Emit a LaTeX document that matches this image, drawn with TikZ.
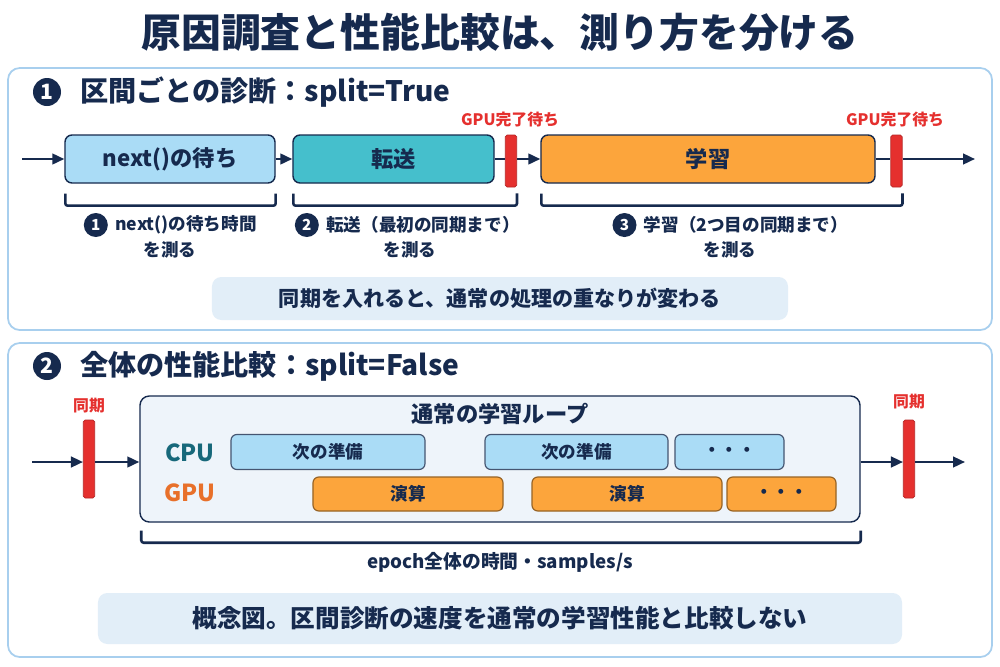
\documentclass[tikz,border=0pt]{standalone}
\usepackage{fontspec}
\setmainfont{Noto Sans CJK JP}
\usepackage{xcolor}
\usepackage{tikz}
\usetikzlibrary{arrows.meta,positioning}

\definecolor{navy}{RGB}{22,42,78}
\definecolor{boxblue}{RGB}{170,220,246}
\definecolor{boxteal}{RGB}{69,191,204}
\definecolor{boxorange}{RGB}{252,165,60}
\definecolor{syncred}{RGB}{229,48,46}
\definecolor{panelline}{RGB}{168,207,238}
\definecolor{notefill}{RGB}{226,238,248}
\definecolor{loopfill}{RGB}{238,244,250}
\definecolor{cputext}{RGB}{23,104,122}
\definecolor{gputext}{RGB}{232,112,42}

\begin{document}
\begin{tikzpicture}[
    x=0.03cm, y=-0.03cm,
    panel/.style={draw=panelline, line width=1.5pt, rounded corners=10pt, fill=white},
    phase/.style={draw=navy, line width=1.2pt, rounded corners=6pt, inner sep=0pt,
                  minimum height=1.44cm, font=\fontsize{19}{22}\selectfont\bfseries, text=navy},
    task/.style={draw=navy!80, line width=1pt, rounded corners=5pt, inner sep=0pt,
                 font=\fontsize{15}{18}\selectfont\bfseries, text=navy},
    syncbar/.style={draw=syncred!80!black, line width=0.6pt, fill=syncred, rounded corners=1.5pt,
                    inner sep=0pt, minimum width=0.34cm},
    arr/.style={-{Triangle[length=3.6mm,width=3.2mm]}, line width=2pt, navy},
    link/.style={line width=2pt, navy},
    brace/.style={line width=2.2pt, navy, rounded corners=2pt},
    num/.style={circle, fill=navy, text=white, inner sep=0pt, font=\fontsize{13}{13}\selectfont\bfseries},
    lbl/.style={font=\fontsize{15}{19}\selectfont\bfseries, text=navy, inner sep=1pt},
    red lbl/.style={font=\fontsize{13.5}{16}\selectfont\bfseries, text=syncred},
    head/.style={font=\fontsize{24}{30}\selectfont\bfseries, text=navy, anchor=west, inner sep=0pt},
    note/.style={fill=notefill, rounded corners=8pt, inner sep=0pt,
                 font=\fontsize{18}{22}\selectfont\bfseries, text=navy},
]
\useasboundingbox (0,0) rectangle (1000,667);

% title
\node[font=\fontsize{34}{40}\selectfont\bfseries, text=navy] (title) at (500,32)
    {原因調査と性能比較は、測り方を分ける};

% panel 1
\draw[panel] (8,68) rectangle (992,330);
\node[num, minimum size=0.84cm, font=\fontsize{18}{20}\selectfont\bfseries] (n1) at (47,92) {1};
\node[head] (h1) at (80,92) {区間ごとの診断：split=True};

\coordinate (in1) at (22,159);
\node[phase, fill=boxblue, minimum width=6.3cm] (wait) at (170,159) {next()の待ち};
\node[phase, fill=boxteal, minimum width=6.03cm] (xfer) at (393.5,159) {転送};
\node[syncbar, minimum height=1.56cm] (sync1) at (511,161) {};
\node[phase, fill=boxorange, minimum width=10.02cm] (train) at (708,159) {学習};
\node[syncbar, minimum height=1.56cm] (sync2) at (896.5,161) {};
\coordinate (out1) at (975,159);

\node[red lbl] at (510,120) {GPU完了待ち};
\node[red lbl] at (895,120) {GPU完了待ち};

\draw[arr] (in1) -- (wait.west);
\draw[arr] (wait.east) -- (xfer.west);
\draw[link] (xfer.east) -- (sync1.west |- xfer.east);
\draw[arr] (sync1.east |- train.west) -- (train.west);
\draw[link] (train.east) -- (sync2.west |- train.east);
\draw[arr] (sync2.east |- out1) -- (out1);

% brackets under the phases
\draw[brace] ([shift={(1,10)}]wait.south west) -- ++(0,12) -| ([shift={(0,10)}]wait.south east);
\draw[brace] ([shift={(1,10)}]xfer.south west) -- ++(0,12) -| ([shift={(0,6)}]sync1.south east);
\draw[brace] ([shift={(1,10)}]train.south west) -- ++(0,12) -| ([shift={(0,6)}]sync2.south east);

\node[lbl] (m1) at (186,225) {next()の待ち時間};
\node[num, minimum size=0.72cm, left=5pt of m1] (c1) {1};
\node[lbl] (m1b) at (170,250) {を測る};
\node[lbl] (m2) at (423,225) {転送（最初の同期まで）};
\node[num, minimum size=0.72cm, left=5pt of m2] (c2) {2};
\node[lbl] (m2b) at (410,250) {を測る};
\node[lbl] (m3) at (746,225) {学習（2つ目の同期まで）};
\node[num, minimum size=0.72cm, left=5pt of m3] (c3) {3};
\node[lbl] (m3b) at (730,250) {を測る};

\node[note, minimum width=17.28cm, minimum height=1.29cm] (note1) at (500,298.5)
    {同期を入れると、通常の処理の重なりが変わる};

% panel 2
\draw[panel] (8,343) rectangle (992,657);
\node[num, minimum size=0.84cm, font=\fontsize{18}{20}\selectfont\bfseries] (n2) at (47,366) {2};
\node[head] (h2) at (80,366) {全体の性能比較：split=False};

\coordinate (in2) at (32,462);
\node[syncbar, minimum height=2.34cm] (syncL) at (89,459) {};
\node[red lbl] at (89,406) {同期};
\node[draw=navy, line width=1.2pt, fill=loopfill, rounded corners=8pt,
      minimum width=21.6cm, minimum height=3.78cm, inner sep=0pt] (loop) at (500,459) {};
\node[font=\fontsize{19}{22}\selectfont\bfseries, text=navy] (looptitle) at (500,414) {通常の学習ループ};
\node[syncbar, minimum height=2.34cm] (syncR) at (909,459) {};
\node[red lbl] at (909,402) {同期};
\coordinate (out2) at (965,462);

\node[font=\fontsize{20}{22}\selectfont\bfseries, text=cputext] (cpu) at (190,453) {CPU};
\node[font=\fontsize{20}{22}\selectfont\bfseries, text=gputext] (gpu) at (190,493) {GPU};

\node[task, fill=boxblue, minimum width=5.82cm, minimum height=1.05cm] (prep1) at (328,452) {次の準備};
\node[task, fill=boxblue, minimum width=5.49cm, minimum height=1.05cm] (prep2) at (576.5,452) {次の準備};
\node[task, fill=boxblue, minimum width=3.27cm, minimum height=1.05cm] (prep3) at (729.5,452) {・・・};
\node[task, fill=boxorange, draw=boxorange!60!black, minimum width=5.7cm, minimum height=1.02cm] (comp1) at (408,494) {演算};
\node[task, fill=boxorange, draw=boxorange!60!black, minimum width=5.7cm, minimum height=1.02cm] (comp2) at (627,494) {演算};
\node[task, fill=boxorange, draw=boxorange!60!black, minimum width=3.27cm, minimum height=1.02cm] (comp3) at (781.5,494) {・・・};

\draw[arr] (in2) -- (syncL.west |- in2);
\draw[arr] (syncL.east |- in2) -- (loop.west |- in2);
\draw[arr] (loop.east |- out2) -- (syncR.west |- out2);
\draw[arr] (syncR.east |- out2) -- (out2);

\draw[brace] ([shift={(2,8)}]loop.south west) -- ++(0,12) -| ([shift={(0,8)}]loop.south east);
\node[lbl, font=\fontsize{16}{19}\selectfont\bfseries] (epoch) at (500,562) {epoch全体の時間・samples/s};

\node[note, minimum width=24.12cm, minimum height=1.53cm, font=\fontsize{21}{24}\selectfont\bfseries] (note2) at (500,618.5)
    {概念図。区間診断の速度を通常の学習性能と比較しない};
\end{tikzpicture}
\end{document}
